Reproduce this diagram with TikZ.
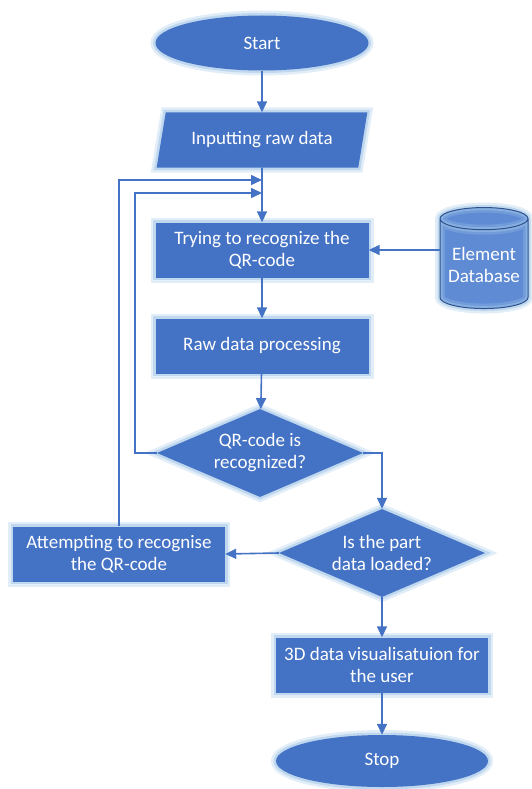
\documentclass[tikz,border=0pt]{standalone}
\usepackage{fontspec}
\setmainfont{Carlito}
\usepackage{tikz}
\usetikzlibrary{arrows.meta, shapes.geometric}

\definecolor{flowblue}{HTML}{4472C4}
\definecolor{glowblue}{HTML}{9DC3E6}
\definecolor{darkblue}{HTML}{2F528F}
\definecolor{dbblue}{HTML}{5F8BD4}

\tikzset{
	glow/.style={preaction={draw=glowblue, draw opacity=0.3, line width=10pt},
		preaction={draw=glowblue, draw opacity=0.5, line width=5pt}},
	flowtext/.style={text=white, align=center, font=\fontsize{19}{22}\selectfont, inner sep=1pt},
	terminal/.style={ellipse, fill=flowblue, glow, flowtext, minimum width=213pt, minimum height=55pt},
	iobox/.style={trapezium, trapezium left angle=70, trapezium right angle=110, trapezium stretches=true,
		fill=flowblue, glow, flowtext, minimum width=211pt, minimum height=55pt},
	procbox/.style={rectangle, fill=flowblue, glow, flowtext, minimum width=213pt, minimum height=55pt},
	decision/.style={diamond, fill=flowblue, glow, flowtext, aspect=2.3, minimum width=206pt, minimum height=88pt},
	store/.style={cylinder, shape border rotate=90, aspect=0.3, draw=darkblue, line width=1pt,
		cylinder uses custom fill, cylinder body fill=dbblue, cylinder end fill=dbblue,
		glow, flowtext, minimum width=88pt, minimum height=101pt},
	flow/.style={draw=flowblue, line width=1.6pt, -{Triangle[length=11pt, width=10pt]}}
}

\begin{document}
\begin{tikzpicture}[x=1pt, y=-1pt]
	\useasboundingbox (0,0) rectangle (531,789);

	\node[terminal](S) at (262,43) {Start};
	\node[iobox](I) at (262,140) {Inputting raw data};
	\node[procbox](T) at (262,250) {Trying to recognize the\\QR-code};
	\node[store](D) at (484,265) {Element\\Database};
	\node[procbox](R) at (262,346) {Raw data processing};
	\node[decision](Q) at (260,453) {QR-code is\\recognized?};
	\node[decision](P) at (382,553) {Is the part\\data loaded?};
	\node[procbox, minimum width=212pt](A) at (119,554) {Attempting to recognise\\the QR-code};
	\node[procbox, minimum width=212pt](V) at (382,665) {3D data visualisatuion for\\the user};
	\node[terminal, minimum width=212pt, minimum height=52pt](E) at (382,761) {Stop};

	\coordinate (m1) at (262,180);
	\coordinate (m2) at (262,193);

	\draw[flow](S) -- (I);
	\draw[flow](I) -- (T);
	\draw[flow](D.west |- T.east) -- (T.east);
	\draw[flow](T) -- (R);
	\draw[flow](R) -- (Q);

	\draw[flow](Q.east) -| (P.north);
	\draw[flow](Q.west) -- ++(-22,0) |- (m2);

	\draw[flow](P.west) -- (A.east);
	\draw[flow](A.north) |- (m1);

	\draw[flow](P) -- (V);
	\draw[flow](V) -- (E);
\end{tikzpicture}
\end{document}
